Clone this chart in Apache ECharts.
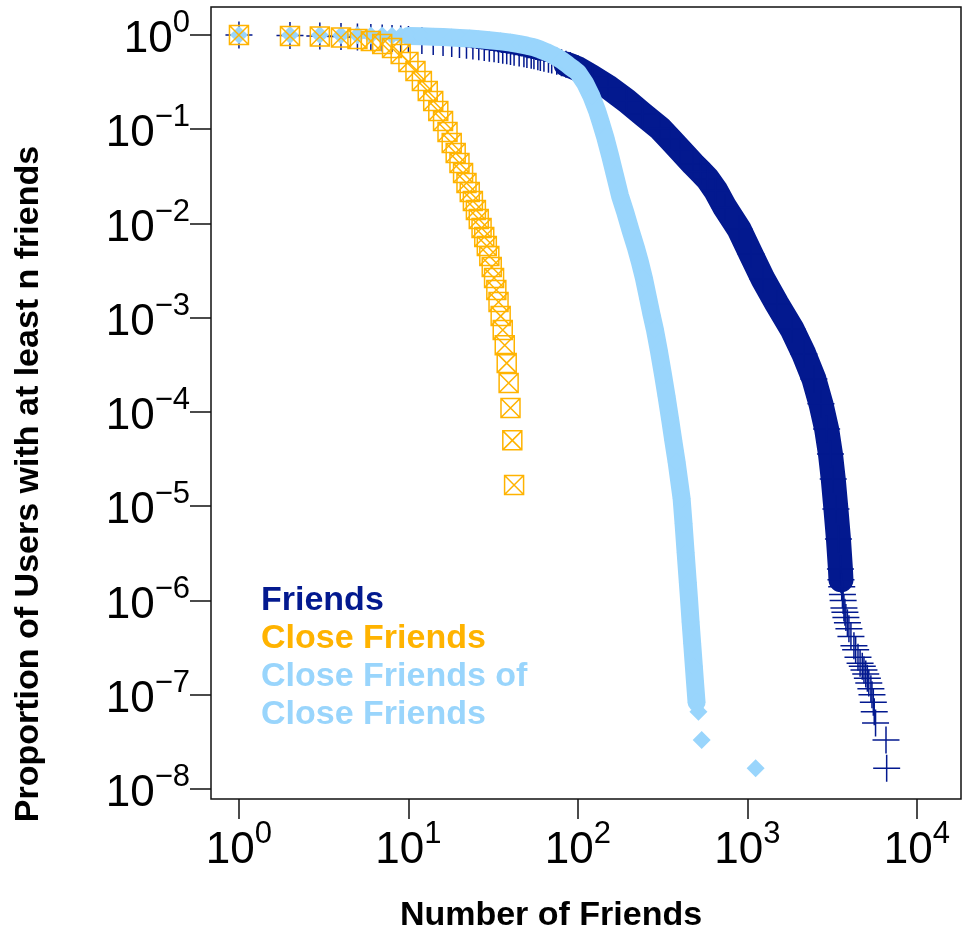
<!DOCTYPE html>
<html>
<head>
<meta charset="utf-8">
<script src="https://cdn.jsdelivr.net/npm/echarts@6/dist/echarts.min.js"></script>
<style>
html,body{margin:0;padding:0;background:#fff;}
#chart{width:965px;height:940px;}
</style>
</head>
<body>
<div id="chart"></div>
<script>
// ---- data ----
const xTickValues = [1, 10, 100, 1000, 10000];
const yTickValues = [1e-8, 1e-7, 1e-6, 1e-5, 1e-4, 1e-3, 1e-2, 1e-1, 1];

const friendsN = [1,2,3,4,5,6,7,8,9,10,12,14,16,18,20,22,24,26,28,30,32,34,36,38,40,42,45,48,50,53,55,58,60,63,67,70,75,80,85,90,100,122,150,194,240,305,350,400,478,530,582,650,737,891,1049,1234,1493,1830,2154,2466,2714,2933,3090,3208,3327,3443,3538,3563,3600,3635,3670,3710,3760,3810,3890,3970,4080,4250,4350,4490,4620,4760,4870,4990,5100,5200,5350,5430,5530,5600,5700,6570,6630];
const friendsP = [1,0.988,0.976,0.964,0.952,0.941,0.929,0.918,0.907,0.896,0.874,0.853,0.833,0.812,0.793,0.777,0.764,0.75,0.737,0.724,0.713,0.702,0.69,0.679,0.668,0.657,0.644,0.632,0.621,0.609,0.6,0.589,0.577,0.566,0.552,0.541,0.525,0.508,0.49,0.473,0.437,0.355,0.282,0.2,0.145,0.102,0.0787,0.0607,0.0428,0.0355,0.0297,0.0224,0.0148,0.00875,0.00474,0.00258,0.0014,7.6e-4,4.12e-4,2.24e-4,1.22e-4,6.6e-5,3.58e-5,1.95e-5,9.35e-6,4.5e-6,2.16e-6,1.66e-6,1.4e-6,1.16e-6,1.0e-6,8.3e-7,7.5e-7,6.6e-7,5.8e-7,5.0e-7,4.15e-7,3.3e-7,3.0e-7,2.5e-7,2.16e-7,2.0e-7,1.83e-7,1.66e-7,1.5e-7,1.33e-7,1.16e-7,1.0e-7,8.3e-8,6.6e-8,5.0e-8,3.3e-8,1.66e-8];

const closeN = [1,2,3,4,5,6,7,8,9,10,11,12,13,14,15,16,17,18,19,20,21,22,23,24,25,26,27,28,29,30,31,32,33,34,35,36,37,38,39,40,41,42];
const closeP = [1,0.976,0.964,0.941,0.907,0.864,0.803,0.728,0.629,0.517,0.415,0.325,0.2545,0.1995,0.156,0.1224,0.0935,0.0715,0.056,0.0438,0.0343,0.0269,0.0216,0.0173,0.0139,0.01116,0.00896,0.00719,0.00577,0.00452,0.00345,0.00264,0.00197,0.00147,0.00104,7.4e-4,5.1e-4,3.3e-4,2.03e-4,1.1e-4,5.0e-5,1.68e-5];

const cfcfN = [1,2,3,4,5,6,7,8,9,10,12,14,16,18,20,23,26,30,35,40,45,50,55,60,65,70,75,80,85,90,95,100,110,120,130,136,145,155,165,177,190,205,220,232,245,260,272,284,300,318,333,350,365,382,395,409,420,432,445,452,462,472,483,490,501,514,537,1118];
const cfcfP = [1,0.999,0.997,0.995,0.99,0.988,0.985,0.982,0.979,0.975,0.968,0.96,0.952,0.94,0.93,0.915,0.9,0.88,0.855,0.83,0.8,0.77,0.74,0.70,0.66,0.62,0.58,0.54,0.50,0.46,0.43,0.40,0.31,0.225,0.155,0.12,0.082,0.052,0.033,0.0197,0.0132,0.0083,0.0055,0.0039,0.00263,0.00158,0.00107,7.6e-4,4.5e-4,2.45e-4,1.48e-4,8.3e-5,5.0e-5,2.95e-5,1.9e-5,1.2e-5,6.5e-6,3.2e-6,1.55e-6,1.05e-6,5.9e-7,3.5e-7,2.0e-7,1.4e-7,8.3e-8,6.6e-8,3.3e-8,1.66e-8];

const seriesNames = ['Friends', 'Close Friends', 'Close Friends of Close Friends'];

// ---- styling ----
const NAVY = '#03198f';
const ORANGE = '#ffb300';
const LIGHT = '#99d5fc';
const TICK_FONT = "'Liberation Sans', Arial, Helvetica, sans-serif";
const BOLD_FONT = "'Liberation Sans', Arial, Helvetica, sans-serif";

const pairs = (ns, ps) => ns.map((n, i) => [n, ps[i]]);
const friendsData = pairs(friendsN, friendsP);
const closeData = pairs(closeN, closeP);
const cfcfData = pairs(cfcfN, cfcfP);

// dense parts of the curves, where the markers merge into a solid band
const friendsBand = friendsData.filter(d => d[0] >= 85 && d[1] >= 1.6e-6);
const cfcfBand = cfcfData.filter(d => d[0] >= 10 && d[1] >= 8e-8);

function powLabel(v) {
  const e = Math.round(Math.log10(v));
  const es = e < 0 ? '\u2212' + (-e) : String(e);
  return '{b|10}{e|' + es + '}';
}
const labelRich = {
  b: { fontSize: 44, fontFamily: TICK_FONT, color: '#000', padding: [10, 0, 0, 0] },
  e: { fontSize: 31, fontFamily: TICK_FONT, color: '#000', verticalAlign: 'top' }
};

const PLUS = 'path://M5,0V10M0,5H10';
const BOXX = 'path://M0,0H10V10H0ZM0,0L10,10M10,0L0,10';

const chart = echarts.init(document.getElementById('chart'), null, { renderer: 'canvas' });
chart.setOption({
  animation: false,
  backgroundColor: '#fff',
  grid: {
    left: 211, top: 7, width: 750, height: 792,
    show: true, borderColor: '#111', borderWidth: 1.5, backgroundColor: 'transparent'
  },
  legend: {
    left: 251, top: 577, orient: 'vertical', itemGap: 0,
    itemWidth: 0, itemHeight: 1, icon: 'none', selectedMode: false,
    formatter: name => name === 'Close Friends of Close Friends' ? 'Close Friends of\nClose Friends' : name,
    textStyle: { fontSize: 34, fontWeight: 'bold', fontFamily: BOLD_FONT, lineHeight: 38 },
    data: [
      { name: seriesNames[0], textStyle: { color: NAVY } },
      { name: seriesNames[1], textStyle: { color: ORANGE } },
      { name: seriesNames[2], textStyle: { color: LIGHT } }
    ]
  },
  xAxis: {
    type: 'log', logBase: 10, min: 0.684, max: 18200,
    name: 'Number of Friends', nameLocation: 'middle', nameGap: 100,
    nameTextStyle: { fontSize: 34, fontWeight: 'bold', fontFamily: BOLD_FONT, color: '#000', padding: [0, 70, 0, 0] },
    axisLine: { show: false },
    splitLine: { show: false },
    minorTick: { show: false },
    axisTick: { show: true, inside: false, length: 20, customValues: xTickValues, lineStyle: { color: '#111', width: 1.5 } },
    axisLabel: { customValues: xTickValues, margin: 20, formatter: powLabel, rich: labelRich }
  },
  yAxis: {
    type: 'log', logBase: 10, min: 7.83e-9, max: 1.98,
    name: 'Proportion of Users with at least n friends', nameLocation: 'middle', nameGap: 165,
    nameTextStyle: { fontSize: 34, fontWeight: 'bold', fontFamily: BOLD_FONT, color: '#000', padding: [0, 162, 0, 0] },
    axisLine: { show: false },
    splitLine: { show: false },
    minorTick: { show: false },
    axisTick: { show: true, inside: false, length: 21, customValues: yTickValues, lineStyle: { color: '#111', width: 1.5 } },
    axisLabel: { customValues: yTickValues, margin: 21, formatter: powLabel, rich: labelRich }
  },
  series: [
    {
      name: 'Friends band', type: 'line', data: friendsBand, showSymbol: false, symbol: 'none',
      lineStyle: { color: NAVY, width: 25, cap: 'round', join: 'round' }, z: 1, silent: true
    },
    {
      name: seriesNames[0], type: 'scatter', data: friendsData, symbol: PLUS, symbolSize: 27,
      itemStyle: { color: NAVY, borderColor: NAVY, borderWidth: 1.5, opacity: 1 }, z: 2
    },
    {
      name: 'CFCF band', type: 'line', data: cfcfBand, showSymbol: false, symbol: 'none',
      lineStyle: { color: LIGHT, width: 18, cap: 'round', join: 'round' }, z: 3, silent: true
    },
    {
      name: seriesNames[2], type: 'scatter', data: cfcfData, symbol: 'diamond', symbolSize: 18,
      itemStyle: { color: LIGHT, opacity: 1 }, z: 4
    },
    {
      name: seriesNames[1], type: 'scatter', data: closeData, symbol: BOXX, symbolSize: 19,
      itemStyle: { color: 'rgba(0,0,0,0)', borderColor: ORANGE, borderWidth: 1.5, opacity: 1 }, z: 5
    }
  ]
});
</script>
</body>
</html>
